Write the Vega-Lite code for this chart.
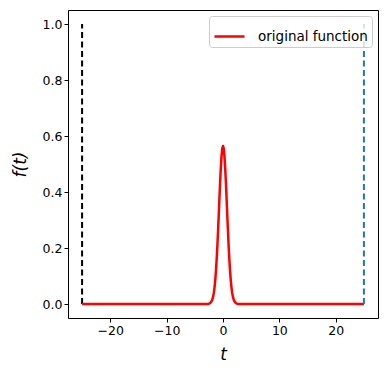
{
  "$schema": "https://vega.github.io/schema/vega-lite/v6.json",
  "autosize": {"type": "none"},
  "padding": {"left": 68, "top": 10, "right": 10, "bottom": 58},
  "width": 310,
  "height": 308,
  "config": {
    "view": {"stroke": "black", "strokeWidth": 1},
    "font": "DejaVu Sans",
    "axis": {
      "grid": false,
      "domain": false,
      "tickColor": "black",
      "tickSize": 4,
      "labelFontSize": 12.5,
      "labelColor": "black",
      "labelFont": "DejaVu Sans",
      "titleFont": "DejaVu Sans",
      "titleFontWeight": "normal",
      "titleFontStyle": "italic",
      "titleFontSize": 17,
      "titleColor": "black"
    }
  },
  "datasets": {
    "curve": [
      {"t": -25, "f": 0},
      {"t": -10, "f": 0},
      {"t": -5, "f": 0},
      {"t": -3, "f": 0.00007},
      {"t": -2.75, "f": 0.00029},
      {"t": -2.5, "f": 0.00109},
      {"t": -2.25, "f": 0.00357},
      {"t": -2, "f": 0.0103},
      {"t": -1.875, "f": 0.0168},
      {"t": -1.75, "f": 0.0264},
      {"t": -1.625, "f": 0.0402},
      {"t": -1.5, "f": 0.0595},
      {"t": -1.375, "f": 0.0852},
      {"t": -1.25, "f": 0.1183},
      {"t": -1.125, "f": 0.1592},
      {"t": -1, "f": 0.2076},
      {"t": -0.875, "f": 0.2623},
      {"t": -0.75, "f": 0.3215},
      {"t": -0.625, "f": 0.3817},
      {"t": -0.5, "f": 0.4394},
      {"t": -0.375, "f": 0.4902},
      {"t": -0.25, "f": 0.53},
      {"t": -0.125, "f": 0.5555},
      {"t": 0, "f": 0.5642},
      {"t": 0.125, "f": 0.5555},
      {"t": 0.25, "f": 0.53},
      {"t": 0.375, "f": 0.4902},
      {"t": 0.5, "f": 0.4394},
      {"t": 0.625, "f": 0.3817},
      {"t": 0.75, "f": 0.3215},
      {"t": 0.875, "f": 0.2623},
      {"t": 1, "f": 0.2076},
      {"t": 1.125, "f": 0.1592},
      {"t": 1.25, "f": 0.1183},
      {"t": 1.375, "f": 0.0852},
      {"t": 1.5, "f": 0.0595},
      {"t": 1.625, "f": 0.0402},
      {"t": 1.75, "f": 0.0264},
      {"t": 1.875, "f": 0.0168},
      {"t": 2, "f": 0.0103},
      {"t": 2.25, "f": 0.00357},
      {"t": 2.5, "f": 0.00109},
      {"t": 2.75, "f": 0.00029},
      {"t": 3, "f": 0.00007},
      {"t": 5, "f": 0},
      {"t": 10, "f": 0},
      {"t": 25, "f": 0}
    ],
    "bounds": [
      {"t": -25, "lo": 0, "hi": 1, "side": "left"},
      {"t": 25, "lo": 0, "hi": 1, "side": "right"}
    ]
  },
  "layer": [
    {
      "data": {"name": "bounds"},
      "transform": [{"filter": "datum.side == 'left'"}],
      "mark": {"type": "rule", "color": "black", "strokeWidth": 2, "strokeDash": [6, 3.5]},
      "encoding": {
        "x": {"field": "t", "type": "quantitative"},
        "y": {"field": "lo", "type": "quantitative"},
        "y2": {"field": "hi"}
      }
    },
    {
      "data": {"name": "curve"},
      "mark": {"type": "line", "strokeWidth": 2.5, "strokeJoin": "round"},
      "encoding": {
        "x": {
          "field": "t",
          "type": "quantitative",
          "scale": {"domain": [-27.5, 27.5], "nice": false, "zero": false},
          "axis": {"values": [-20, -10, 0, 10, 20], "title": "t", "titlePadding": 10}
        },
        "y": {
          "field": "f",
          "type": "quantitative",
          "scale": {"domain": [-0.05, 1.05], "nice": false, "zero": false},
          "axis": {"values": [0, 0.2, 0.4, 0.6, 0.8, 1.0], "format": ".1f", "title": "f(t)", "titlePadding": 13}
        },
        "color": {
          "datum": "original function",
          "type": "nominal",
          "scale": {"domain": ["original function"], "range": ["#ff0000"]},
          "legend": {
            "title": null,
            "orient": "top-right",
            "offset": 6,
            "symbolType": "stroke",
            "symbolSize": 900,
            "symbolStrokeWidth": 2.5,
            "labelFontSize": 13.5,
            "labelFont": "DejaVu Sans",
            "labelColor": "black",
            "fillColor": "rgba(255,255,255,0.8)",
            "strokeColor": "#cccccc",
            "cornerRadius": 3,
            "padding": 4,
            "labelOffset": 12
          }
        }
      }
    },
    {
      "data": {"name": "bounds"},
      "transform": [{"filter": "datum.side == 'right'"}],
      "mark": {"type": "rule", "color": "#1f77b4", "strokeWidth": 2, "strokeDash": [6, 3.5]},
      "encoding": {
        "x": {"field": "t", "type": "quantitative"},
        "y": {"field": "lo", "type": "quantitative"},
        "y2": {"field": "hi"}
      }
    }
  ]
}
